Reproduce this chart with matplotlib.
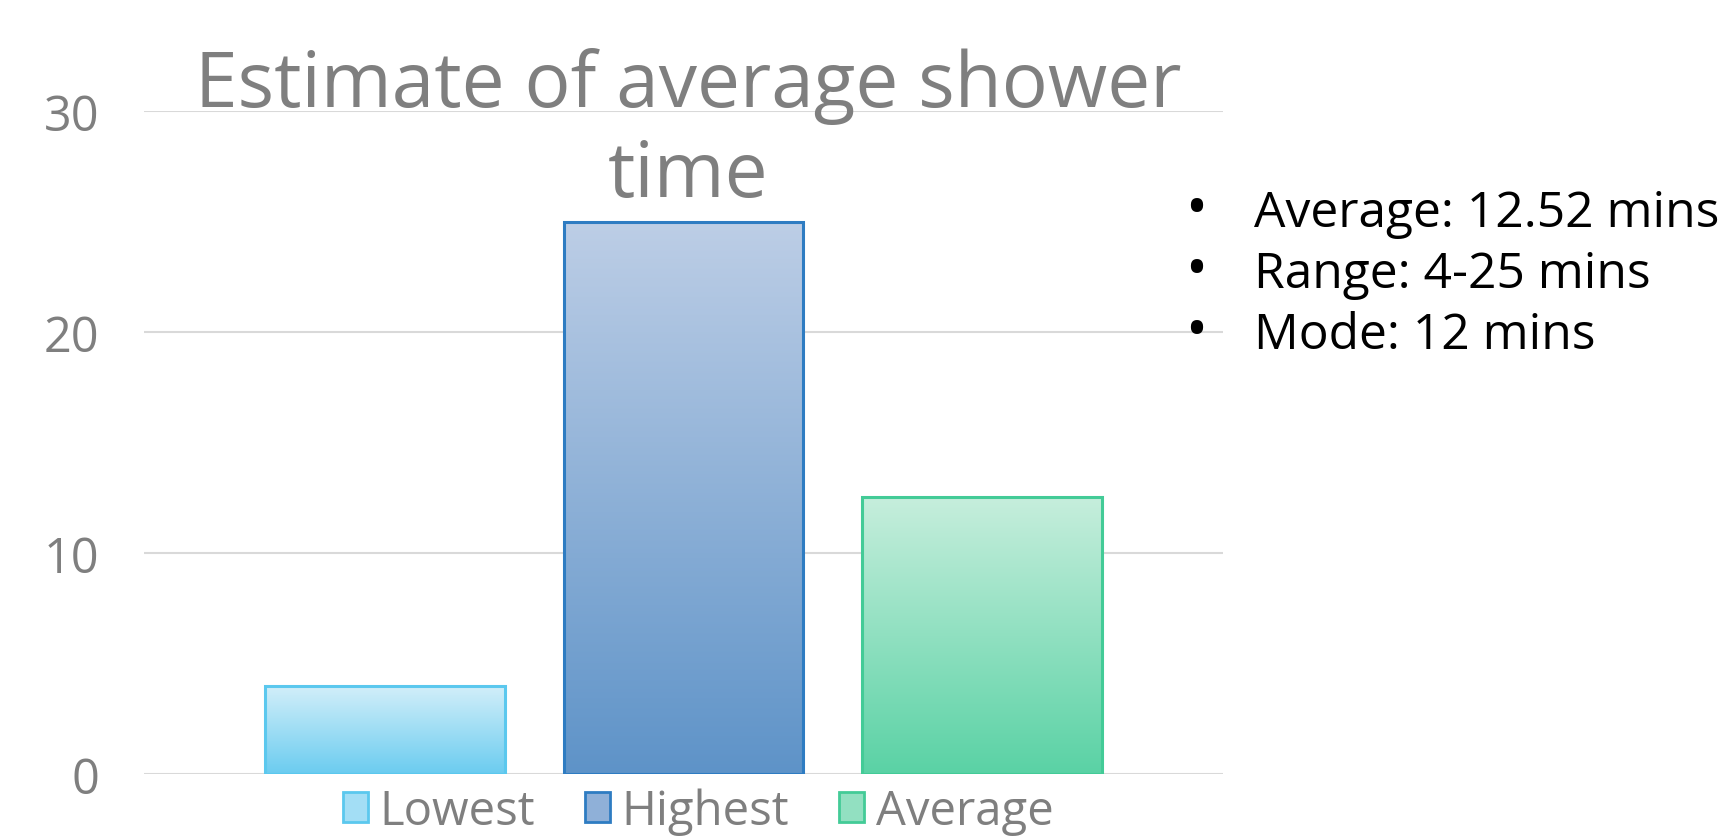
import numpy as np
import matplotlib
matplotlib.use("Agg")
import matplotlib.pyplot as plt
from matplotlib.patches import Rectangle
from matplotlib.colors import LinearSegmentedColormap

# Data
categories = ["Lowest", "Highest", "Average"]
minutes = [4, 25, 12.52]
y_ticks = [0, 10, 20, 30]
title_lines = ["Estimate of average shower", "time"]
notes = ["Average: 12.52 mins", "Range: 4-25 mins", "Mode: 12 mins"]

# Styling
top_colors = ["#d3eff9", "#bdcee6", "#c6eedc"]
bottom_colors = ["#6bccf0", "#5e93c8", "#5ad2a5"]
edge_colors = ["#5bc8ee", "#2e7cc2", "#43cb97"]
mid_colors = ["#a3def5", "#8fb0d8", "#92e0c1"]
grey = "#7f7f7f"
grid_grey = "#d9d9d9"

plt.rcParams["font.family"] = ["Open Sans", "DejaVu Sans"]

W, H = 1736, 837
fig = plt.figure(figsize=(W / 100, H / 100), dpi=100)
fig.patch.set_facecolor("white")

ax = fig.add_axes([144 / W, 1 - 775 / H, 1079 / W, 663 / H])
ax.set_facecolor("none")

x = np.arange(len(categories))
bars = ax.bar(x, minutes, width=0.805, color="none",
              edgecolor=edge_colors, linewidth=2.2, zorder=3)

# Vertical gradient fill inside each bar
grad = np.linspace(0, 1, 256).reshape(-1, 1)
for bar, c_top, c_bot in zip(bars, top_colors, bottom_colors):
    cmap = LinearSegmentedColormap.from_list("g", [c_bot, c_top])
    x0, w, h = bar.get_x(), bar.get_width(), bar.get_height()
    im = ax.imshow(grad, cmap=cmap, aspect="auto", origin="lower",
                   extent=[x0, x0 + w, 0, h], zorder=2, interpolation="bilinear")
    im.set_clip_path(bar)

ax.set_xlim(-0.81, 2.81)
ax.set_ylim(0, 30)
ax.set_yticks(y_ticks)
ax.set_xticks([])
ax.yaxis.grid(True, color=grid_grey, linewidth=1.5, zorder=0)
ax.set_axisbelow(True)
for s in ax.spines.values():
    s.set_visible(False)
ax.tick_params(axis="y", length=0, pad=32, labelsize=35, labelcolor=grey)

# Title
fig.text(688 / W, 1 - 107 / H, title_lines[0], ha="center", va="baseline",
         fontsize=55.2, color=grey)
fig.text(688 / W, 1 - 197 / H, title_lines[1], ha="center", va="baseline",
         fontsize=55.2, color=grey)

# Legend
handles = [Rectangle((0, 0), 1, 1, facecolor=m, edgecolor=e, linewidth=2)
           for m, e in zip(mid_colors, edge_colors)]
fig.legend(handles, categories, loc="center",
           bbox_to_anchor=(698 / W, 1 - 812 / H), ncol=3, frameon=False,
           fontsize=34, labelcolor=grey, handlelength=0.53, handleheight=0.6,
           handletextpad=0.25, columnspacing=1.05, borderpad=0)

# Bullet notes
for i, line in enumerate(notes):
    yb = 1 - (227 + 61 * i) / H
    fig.text(1196 / W, yb, "\u2022", ha="center", va="baseline",
             fontsize=42, color="black")
    fig.text(1254 / W, yb, line, ha="left", va="baseline",
             fontsize=35.8, color="black")

fig.savefig("out.png", dpi=100, facecolor="white")
